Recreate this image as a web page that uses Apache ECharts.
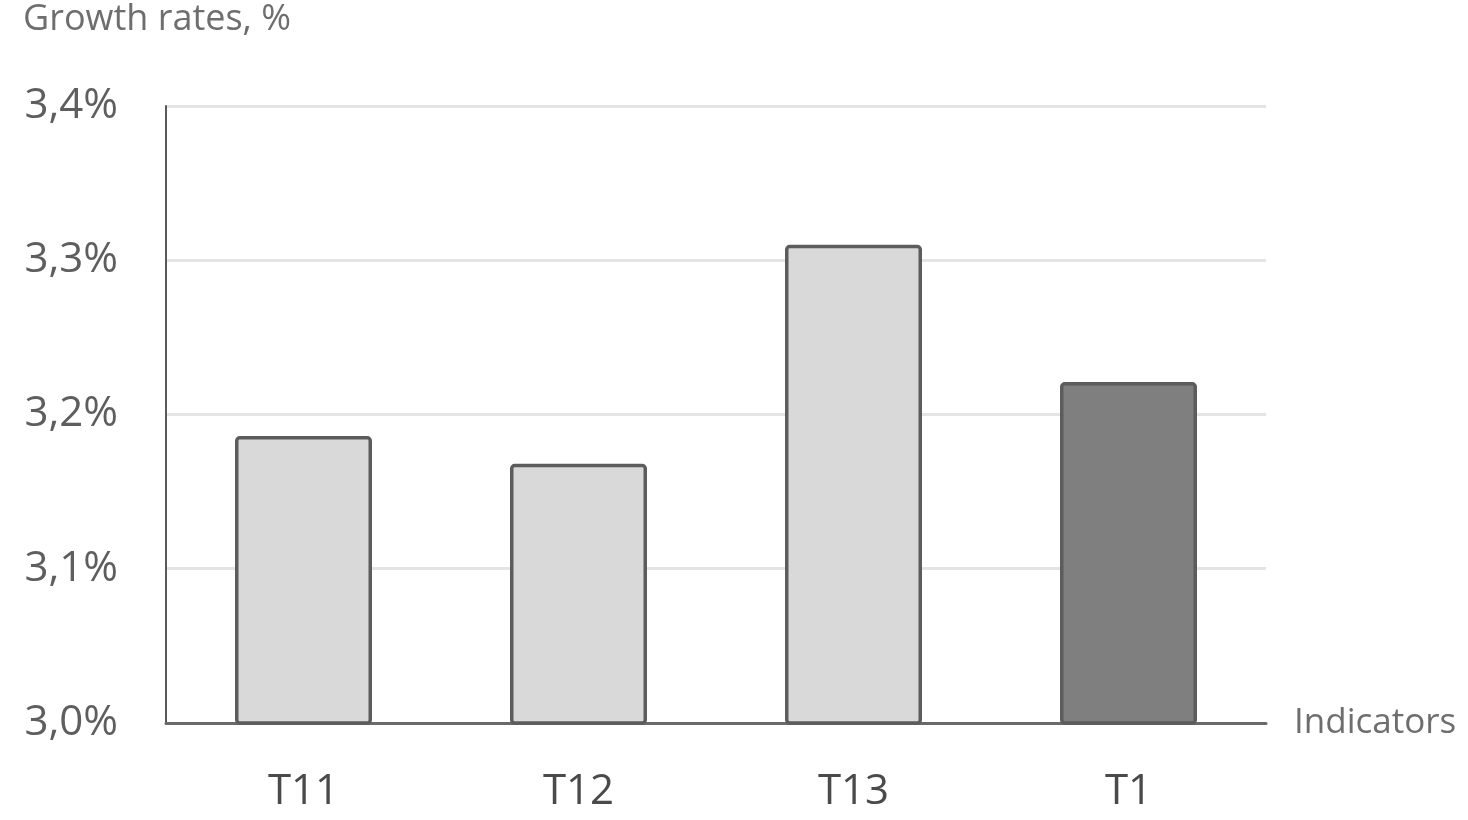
<!DOCTYPE html>
<html>
<head>
<meta charset="utf-8">
<script src="https://cdn.jsdelivr.net/npm/echarts@6/dist/echarts.min.js"></script>
<style>html,body{margin:0;padding:0;background:#fff}#c{width:1468px;height:820px}</style>
</head>
<body>
<div id="c"></div>
<script>
const categories = ['T11', 'T12', 'T13', 'T1'];
const values = [3.186, 3.168, 3.310, 3.221];
const highlight = [false, false, false, true];
const yMin = 3.0, yMax = 3.4, yStep = 0.1;

const chart = echarts.init(document.getElementById('c'));
const fontFam = '"Open Sans", "Noto Sans", sans-serif';
chart.setOption({
  animation: false,
  backgroundColor: '#ffffff',
  title: {
    text: 'Growth rates, %',
    left: 18, top: -3,
    textStyle: { fontFamily: fontFam, fontSize: 36, fontWeight: 'normal', color: '#6e6e6e' }
  },
  grid: { left: 166, right: 202, top: 106, bottom: 97 },
  xAxis: {
    type: 'category',
    data: categories,
    name: 'Indicators',
    nameLocation: 'end',
    nameGap: 28,
    nameTextStyle: { fontFamily: fontFam, fontSize: 35, color: '#6e6e6e', verticalAlign: 'middle' },
    axisLine: { lineStyle: { color: '#6a6a6a', width: 3 } },
    axisTick: { show: false },
    axisLabel: { fontFamily: fontFam, fontSize: 42, color: '#4a4a4a', margin: 48 }
  },
  yAxis: {
    type: 'value',
    min: yMin, max: yMax, interval: yStep,
    axisLine: { show: true, lineStyle: { color: '#5a5a5a', width: 2 } },
    axisTick: { show: false },
    splitLine: { lineStyle: { color: '#e4e4e4', width: 3 } },
    axisLabel: {
      fontFamily: fontFam, fontSize: 42, color: '#5e5e5e', margin: 48,
      formatter: v => v.toFixed(1).replace('.', ',') + '%'
    }
  },
  series: [{
    type: 'bar',
    barWidth: 137,
    data: values.map((v, i) => ({
      value: v,
      itemStyle: { color: highlight[i] ? '#7f7f7f' : '#d9d9d9' }
    })),
    itemStyle: { borderColor: '#5c5c5c', borderWidth: 3.5, borderRadius: 3 }
  }]
});
</script>
</body>
</html>
